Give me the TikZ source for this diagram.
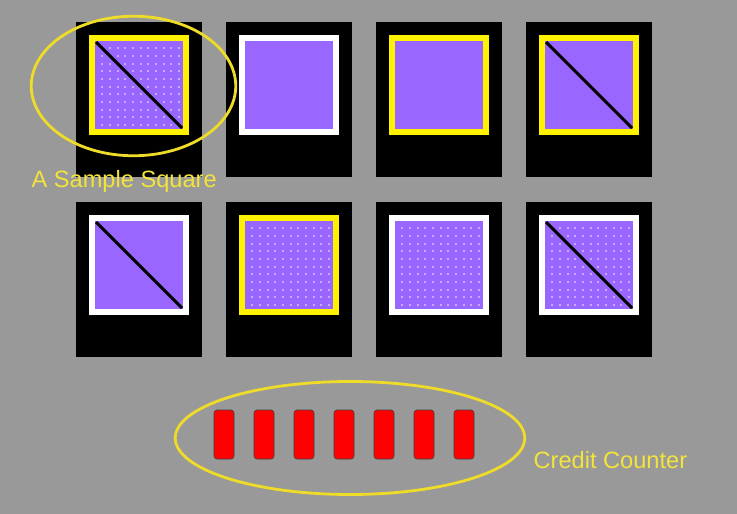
\documentclass[tikz,border=0pt]{standalone}
\usepackage{fontspec}
\setmainfont{Liberation Sans}
\usetikzlibrary{shapes.geometric, positioning}
\definecolor{board}{HTML}{999999}
\definecolor{tilepurple}{HTML}{9966FF}
\definecolor{ringyellow}{HTML}{EEDC28}
\definecolor{ringtext}{HTML}{F2E43A}
\definecolor{lampred}{HTML}{FF0000}

\begin{document}
\begin{tikzpicture}[x=1pt, y=-1pt,
  card/.style={rectangle, fill=black, minimum width=126pt, minimum height=155pt, inner sep=0pt},
  tile/.style={rectangle, draw=#1, line width=6pt, fill=tilepurple, minimum size=94pt, inner sep=0pt},
  ring/.style={ellipse, draw=ringyellow, line width=2.8pt, inner sep=0pt},
  lamp/.style={rectangle, rounded corners=3pt, fill=lampred, draw=black!75, line width=0.6pt, minimum width=20pt, minimum height=49pt, inner sep=0pt},
  caption/.style={text=ringtext, font=\fontsize{23.6}{28}\selectfont, inner sep=0pt, anchor=base west}
]
  \fill[board] (0,0) rectangle (737,514);
  \useasboundingbox (0,0) rectangle (737,514);

  % cards: number / column / row / rim colour / dots / diagonal
  \foreach \n/\col/\row/\rimcol/\hasdots/\hasdiag in {
      1/0/0/yellow/1/1, 2/1/0/white/0/0, 3/2/0/yellow/0/0, 4/3/0/yellow/0/1,
      5/0/1/white/0/1, 6/1/1/yellow/1/0, 7/2/1/white/1/0, 8/3/1/white/1/1}{
    \node[card] (card\n) at (139+150*\col, 99.5+180*\row) {};
    \node[tile=\rimcol] (tile\n) at (139+150*\col, 85+180*\row) {};
    \ifnum\hasdots=1
      \foreach \i in {0,...,10}
        \foreach \j in {0,...,10}
          \fill[white, opacity=0.45] (tile\n.center) ++(-37.8+7.67*\i, -37.8+7.67*\j) rectangle +(2.2,2.2);
    \fi
    \ifnum\hasdiag=1
      \draw[black, line width=3pt] (tile\n.center) ++(-43,-43) -- ++(86,86);
    \fi
  }

  % credit counter
  \foreach \k in {1,...,7}
    \node[lamp] (lamp\k) at (184+40*\k, 434.5) {};

  \node[ring, minimum width=204.5pt, minimum height=139.5pt] (sampleRing) at (133.5,86) {};
  \node[ring, minimum width=349.5pt, minimum height=113pt] (counterRing) at (350,438) {};

  \node[caption] (sampleText) at (31.5,187) {A Sample Square};
  \node[caption] (counterText) at (533.5,468) {Credit Counter};
\end{tikzpicture}
\end{document}
